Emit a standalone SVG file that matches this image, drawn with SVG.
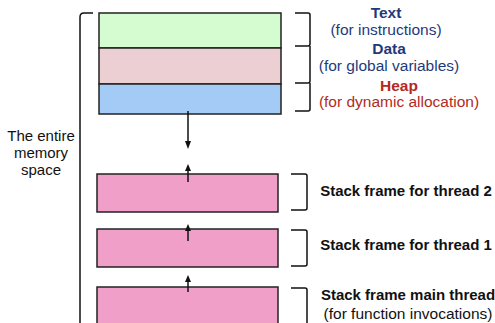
<svg xmlns="http://www.w3.org/2000/svg" width="495" height="323" viewBox="0 0 495 323">
<defs>
<style>
.box{stroke:#222;stroke-width:1.5}
.br{fill:none;stroke:#111;stroke-width:1.5}
.ln{stroke:#111;stroke-width:1.5;fill:none}
text{font-family:"Liberation Sans",Arial,sans-serif;font-size:15.5px;text-anchor:middle}
.sm{font-size:15px}
.b{font-weight:bold}
.blue{fill:#1f3a7a}
.red{fill:#b32a22}
.k{fill:#111}
</style>
</defs>
<rect width="495" height="323" fill="#fff"/>
<g id="memory-bracket">
<path class="br" d="M93,13 L84,13 Q80,13 80,17 L80,323"/>
<text class="k sm" x="41" y="141">The entire</text>
<text class="k sm" x="41" y="158">memory</text>
<text class="k sm" x="41" y="175">space</text>
</g>
<g id="text-seg">
<rect class="box" x="99" y="13" width="182" height="35" fill="#d5fbd0"/>
<path class="br" d="M295,13 L308,13 Q310,13 310,15 L310,44 Q310,46 308,46 L295,46"/>
<text class="b blue" x="386" y="18">Text</text>
<text class="blue" x="386" y="35">(for instructions)</text>
</g>
<g id="data-seg">
<rect class="box" x="99" y="48" width="182" height="36" fill="#ebcfd3"/>
<path class="br" d="M310,46 L310,81 Q310,83 308,83 L295,83"/>
<text class="b blue" x="389" y="54">Data</text>
<text class="blue" x="389" y="71">(for global variables)</text>
</g>
<g id="heap-seg">
<rect class="box" x="99" y="84" width="182" height="30" fill="#a3cbf6"/>
<path class="br" d="M310,83 L310,109 Q310,111 308,111 L295,111"/>
<text class="b red" x="399" y="91">Heap</text>
<text class="red" x="399" y="107">(for dynamic allocation)</text>
</g>
<g id="stack2">
<rect class="box" x="97" y="174" width="181" height="38" fill="#f09fc8"/>
<path class="br" d="M291,174 L305,174 Q307,174 307,176 L307,208 Q307,210 305,210 L291,210"/>
<text class="b k sm" x="406" y="196">Stack frame for thread 2</text>
</g>
<g id="stack1">
<rect class="box" x="97" y="229" width="181" height="38" fill="#f09fc8"/>
<path class="br" d="M291,230 L305,230 Q307,230 307,232 L307,264 Q307,266 305,266 L291,266"/>
<text class="b k sm" x="406" y="250">Stack frame for thread 1</text>
</g>
<g id="stack-main">
<rect class="box" x="97" y="287" width="181" height="40" fill="#f09fc8"/>
<path class="br" d="M291,288 L305,288 Q307,288 307,290 L307,323"/>
<text class="b k sm" x="408" y="300">Stack frame main thread</text>
<text class="k" x="408" y="319">(for function invocations)</text>
</g>
<g id="connectors">
<line class="ln" x1="188" y1="111" x2="188" y2="142"/>
<path d="M185,141 L188,149 L191,141 Z" fill="#111"/>
<line class="ln" x1="188" y1="182" x2="188" y2="170"/>
<path d="M185,171 L188,164 L191,171 Z" fill="#111"/>
<line class="ln" x1="188" y1="241" x2="188" y2="230"/>
<path d="M185,231 L188,224 L191,231 Z" fill="#111"/>
<line class="ln" x1="188" y1="292" x2="188" y2="281"/>
<path d="M185,282 L188,275 L191,282 Z" fill="#111"/>
</g>
</svg>
